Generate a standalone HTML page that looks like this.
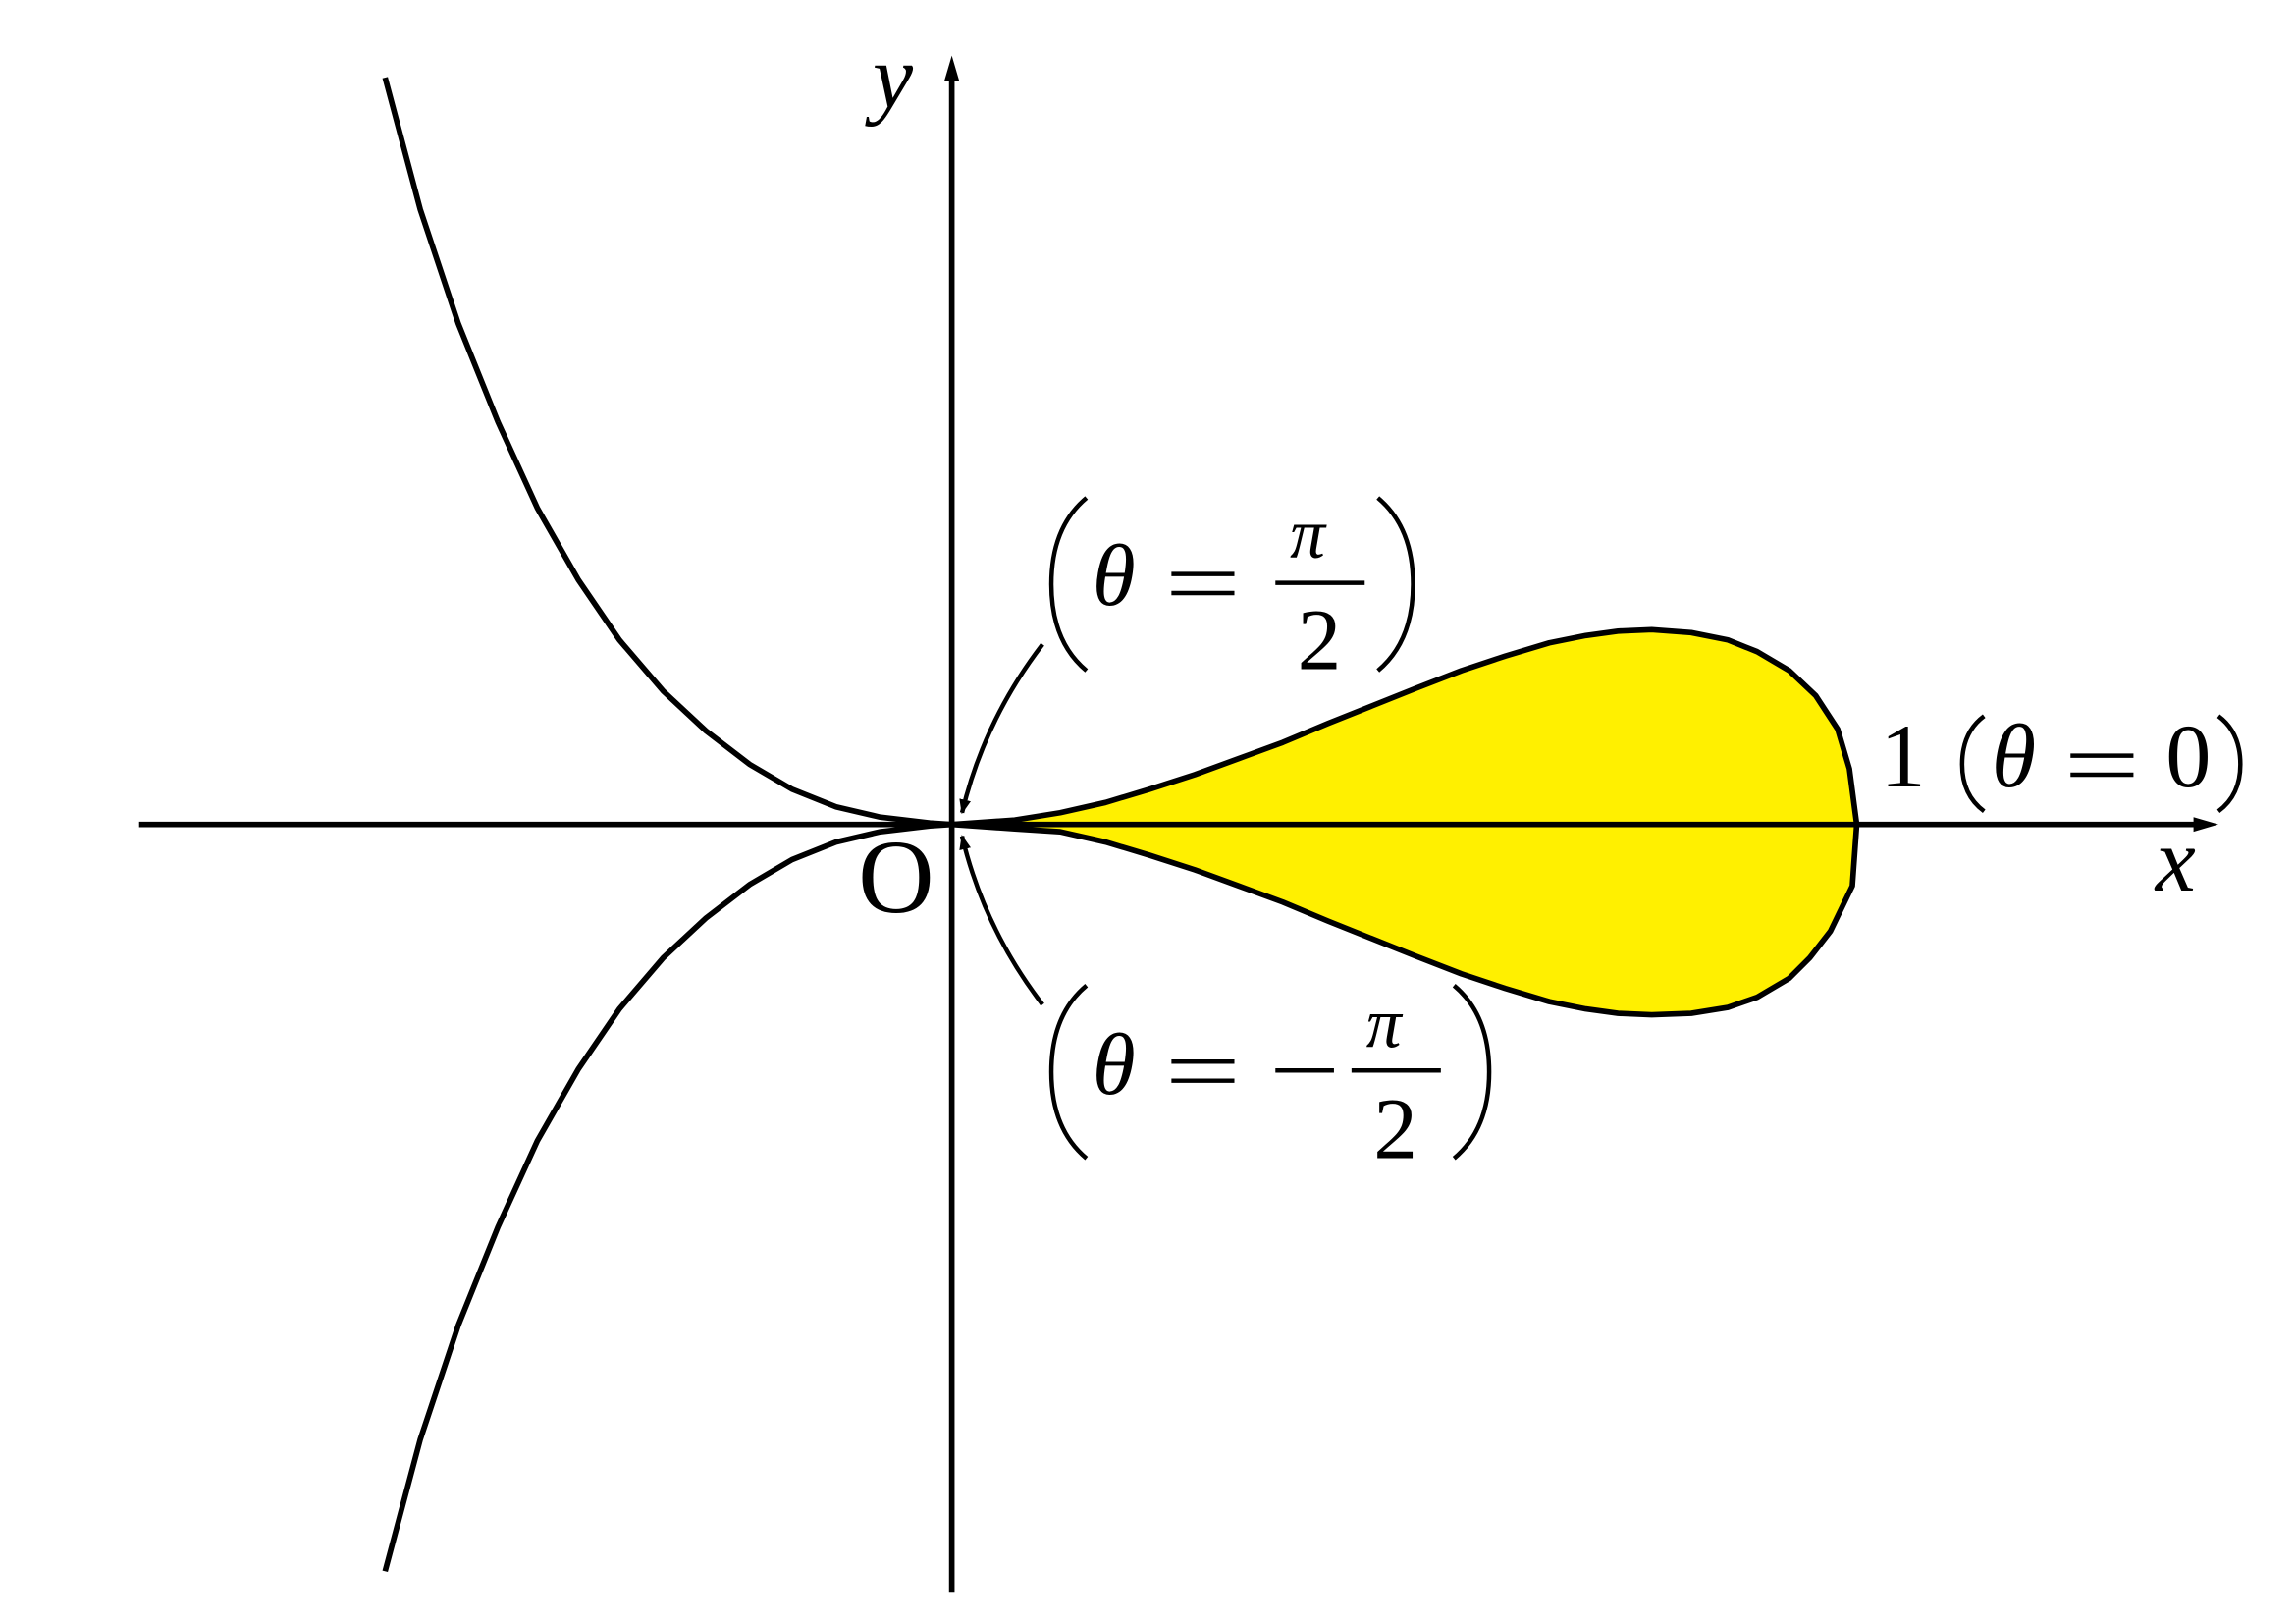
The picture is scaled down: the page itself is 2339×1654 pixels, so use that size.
<!DOCTYPE html>
<html><head><style>html,body{margin:0;padding:0;background:#fff}svg{display:block}</style></head>
<body>
<svg width="2339" height="1654" viewBox="0 0 1568 1109" preserveAspectRatio="none" xmlns="http://www.w3.org/2000/svg">
<defs>
<marker id="ah" markerWidth="10" markerHeight="8" refX="9" refY="4" orient="auto" markerUnits="userSpaceOnUse"><path d="M0,0 L10,4 L0,8 Z" fill="#000"/></marker>
</defs>
<path d="M650,563 L693,560 L724,555 L755,548 L785,539 L816,529 L846,518 L876,507 L907,494 L937,482 L967,470 L998,458 L1028,448 L1058,439 L1083,434 L1105,431 L1128,430 L1155,432 L1180,437 L1200,445 L1222,458 L1240,475 L1255,498 L1263,525 L1268,563 L1265,605 L1250,636 L1236,654 L1222,668 L1200,681 L1180,688 L1155,692 L1128,693 L1105,692 L1083,689 L1058,684 L1028,675 L998,665 L967,653 L937,641 L907,629 L876,616 L846,605 L816,594 L785,584 L755,575 L724,568 L693,566 Z" fill="#FFF000" stroke="#000" stroke-width="3.8" stroke-linejoin="round"/>
<polyline fill="none" stroke="#000" stroke-width="3.8" points="263,53 287,143 313,221 340,288 367,347 395,396 423,437 453,472 482,499 512,522 541,539 571,551 601,558 635,562 650,563"/>
<polyline fill="none" stroke="#000" stroke-width="3.8" points="263,1073 287,983 313,905 340,838 367,779 395,730 423,689 453,654 482,627 512,604 541,587 571,575 601,568 635,564 650,563"/>
<line x1="95" y1="563" x2="1505" y2="563" stroke="#000" stroke-width="3.8"/>
<path d="M1498,558 L1515,563 L1498,568 Z" fill="#000"/>
<line x1="650" y1="1087" x2="650" y2="50" stroke="#000" stroke-width="3.8"/>
<path d="M645,55 L650,38 L655,55 Z" fill="#000"/>
<path d="M712,440 Q672,492 657,555" fill="none" stroke="#000" stroke-width="3" marker-end="url(#ah)"/>
<path d="M712,686 Q672,634 657,571" fill="none" stroke="#000" stroke-width="3" marker-end="url(#ah)"/>
<g font-family="Liberation Serif, serif" fill="#000">
<text x="596" y="73" font-size="62" font-style="italic">y</text>
<text x="1472" y="608" font-size="62" font-style="italic">x</text>
<text x="586" y="623" font-size="72">O</text>
<path d="M742,340 Q718,360 718,399 Q718,438 742,458" fill="none" stroke="#000" stroke-width="3"/>
<text x="746" y="413" font-size="60" font-style="italic">θ</text>
<line x1="800" y1="392" x2="843" y2="392" stroke="#000" stroke-width="3"/>
<line x1="800" y1="405" x2="843" y2="405" stroke="#000" stroke-width="3"/>
<text x="881" y="381" font-size="48" font-style="italic">π</text>
<line x1="871" y1="398" x2="932" y2="398" stroke="#000" stroke-width="3"/>
<text x="886" y="457" font-size="60">2</text>
<path d="M941,340 Q965,360 965,399 Q965,438 941,458" fill="none" stroke="#000" stroke-width="3"/>
<path d="M742,673 Q718,693 718,732 Q718,771 742,791" fill="none" stroke="#000" stroke-width="3"/>
<text x="746" y="747" font-size="60" font-style="italic">θ</text>
<line x1="800" y1="725" x2="843" y2="725" stroke="#000" stroke-width="3"/>
<line x1="800" y1="738" x2="843" y2="738" stroke="#000" stroke-width="3"/>
<line x1="871" y1="731" x2="911" y2="731" stroke="#000" stroke-width="3"/>
<text x="933" y="715" font-size="48" font-style="italic">π</text>
<line x1="923" y1="731" x2="984" y2="731" stroke="#000" stroke-width="3"/>
<text x="938" y="791" font-size="60">2</text>
<path d="M993,673 Q1017,693 1017,732 Q1017,771 993,791" fill="none" stroke="#000" stroke-width="3"/>
<text x="1284" y="537" font-size="62">1</text>
<path d="M1355,489 Q1340,500 1340,522 Q1340,543 1355,554" fill="none" stroke="#000" stroke-width="3"/>
<text x="1360" y="537" font-size="62" font-style="italic">θ</text>
<line x1="1414" y1="516" x2="1457" y2="516" stroke="#000" stroke-width="3"/>
<line x1="1414" y1="529" x2="1457" y2="529" stroke="#000" stroke-width="3"/>
<text x="1479" y="537" font-size="62">0</text>
<path d="M1515,489 Q1530,500 1530,522 Q1530,543 1515,554" fill="none" stroke="#000" stroke-width="3"/>
</g>
</svg>
</body></html>
